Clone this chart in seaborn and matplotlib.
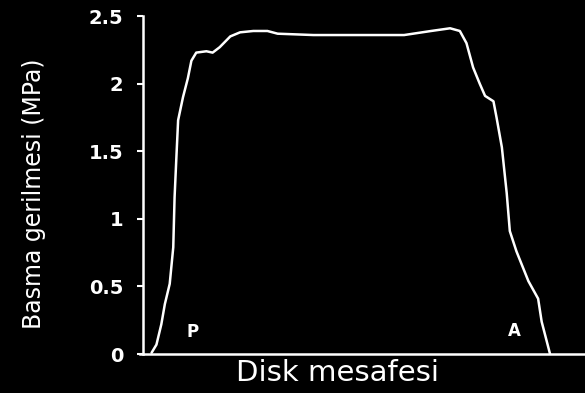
import matplotlib
matplotlib.use("Agg")
import matplotlib.pyplot as plt
import seaborn as sns
import pandas as pd

# Compressive stress profile across the disc, posterior (P) to anterior (A)
distance = [2.0, 3.1, 4.2, 5.0, 6.1, 6.9, 7.2, 7.6, 8.0, 9.1, 10.2, 11.0, 12.1, 14.4,
            15.8, 17.4, 19.8, 22.0, 25.0, 28.2, 30.5, 38.6, 50.0, 59.1, 65.2, 69.5,
            71.7, 73.2, 74.7, 76.2, 77.4, 79.3, 80.0, 81.2, 82.3, 83.0, 84.5, 87.2,
            89.4, 90.2, 92.1]
stress = [0.01, 0.07, 0.22, 0.37, 0.52, 0.79, 1.16, 1.45, 1.73, 1.90, 2.04, 2.17, 2.23, 2.24,
          2.23, 2.27, 2.35, 2.38, 2.39, 2.39, 2.37, 2.36, 2.36, 2.36, 2.39, 2.41,
          2.39, 2.30, 2.12, 2.00, 1.91, 1.87, 1.75, 1.53, 1.19, 0.91, 0.76, 0.54,
          0.41, 0.24, 0.0]
y_ticks = [0, 0.5, 1, 1.5, 2, 2.5]
y_tick_labels = ["0", "0.5", "1", "1.5", "2", "2.5"]

df = pd.DataFrame({"distance": distance, "stress": stress})

sns.set_style("dark")
plt.rcParams["font.family"] = ["DejaVu Sans"]

fig = plt.figure(figsize=(5.85, 3.93), dpi=100, facecolor="black")
ax = fig.add_axes([0.244, 0.099, 0.756, 0.860])
ax.set_facecolor("black")

sns.lineplot(data=df, x="distance", y="stress", ax=ax, color="white",
             linewidth=1.8, sort=False)

ax.set_xlim(0, 100)
ax.set_ylim(0, 2.5)
ax.set_yticks(y_ticks)
ax.set_yticklabels(y_tick_labels, fontsize=14, fontweight="bold", color="white")
ax.set_xticks([])

for side in ["top", "right"]:
    ax.spines[side].set_visible(False)
for side in ["left", "bottom"]:
    ax.spines[side].set_visible(True)
    ax.spines[side].set_color("white")
    ax.spines[side].set_linewidth(1.8)
ax.spines["bottom"].set_bounds(-0.7, 100)

ax.tick_params(axis="y", direction="out", length=4, width=1.5, color="white",
               pad=10, left=True)
ax.grid(False)

ax.set_xlabel("Disk mesafesi", fontsize=21, color="white")
ax.xaxis.set_label_coords(0.44, -0.015, transform=ax.transAxes)
ax.xaxis.label.set_va("top")
ax.set_ylabel("Basma gerilmesi (MPa)", fontsize=17, color="white")
ax.yaxis.set_label_coords(-0.245, 0.475, transform=ax.transAxes)
ax.yaxis.label.set_va("center")

ax.text(11.3, 0.16, "P", color="white", fontsize=12, fontweight="bold",
        ha="center", va="center")
ax.text(84.0, 0.17, "A", color="white", fontsize=12, fontweight="bold",
        ha="center", va="center")

fig.savefig("out.png", dpi=100, facecolor="black")
